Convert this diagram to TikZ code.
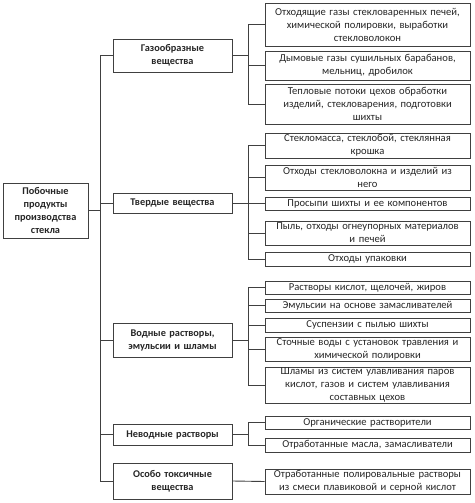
\documentclass[tikz,border=0pt]{standalone}
\usepackage{fontspec}
\setmainfont{Carlito}
\begin{document}
\begin{tikzpicture}[x=1pt,y=-1pt,
  box/.style={draw=black!75, line width=0.9pt, fill=white, inner sep=0pt, align=center,
    text=black!85, font=\fontsize{10.6}{13}\selectfont},
  rbox/.style={box, minimum width=205pt, text width=204pt},
  mbox/.style={box, minimum width=119pt, text width=116pt, font=\fontsize{10.3}{13}\selectfont\bfseries},
  conn/.style={draw=black!75, line width=0.9pt}]
\useasboundingbox (0,0) rectangle (474,503);
\coordinate (tx) at (100,0);
\coordinate (sx) at (248,0);
% main
\node[box, minimum width=85pt, minimum height=55pt, text width=84pt, font=\fontsize{10.3}{13}\selectfont\bfseries] (main) at (45.5,210.5) {Побочные\\продукты\\производства\\стекла};
% middle
\node[mbox, minimum height=33pt] (G) at (172.5,55.5) {Газообразные\\вещества};
\node[mbox, minimum height=20pt] (S) at (172.5,203) {Твердые вещества};
\node[mbox, minimum height=34pt] (W) at (172.5,340) {Водные растворы,\\эмульсии и шламы};
\node[mbox, minimum height=21pt] (N) at (172.5,434.5) {Неводные растворы};
\node[mbox, minimum height=36pt] (T) at (172.5,481) {Особо токсичные\\вещества};
% right
\node[rbox, minimum height=43pt] (R1) at (367.5,24.5) {Отходящие газы стекловаренных печей,\\химической полировки, выработки\\стекловолокон};
\node[rbox, minimum height=29pt] (R2) at (367.5,65.5) {Дымовые газы сушильных барабанов,\\мельниц, дробилок};
\node[rbox, minimum height=40pt] (R3) at (367.5,104) {Тепловые потоки цехов обработки\\изделий, стекловарения, подготовки\\шихты};
\node[rbox, minimum height=25pt] (R4) at (367.5,145.5) {Стекломасса, стеклобой, стеклянная\\крошка};
\node[rbox, minimum height=25pt] (R5) at (367.5,177.5) {Отходы стекловолокна и изделий из\\него};
\node[rbox, minimum height=13pt] (R6) at (367.5,203.5) {Просыпи шихты и ее компонентов};
\node[rbox, minimum height=24pt] (R7) at (367.5,233) {Пыль, отходы огнеупорных материалов\\и печей};
\node[rbox, minimum height=14pt] (R8) at (367.5,259) {Отходы упаковки};
\node[rbox, minimum height=13pt] (R9) at (367.5,287.5) {Растворы кислот, щелочей, жиров};
\node[rbox, minimum height=13pt] (R10) at (367.5,305.5) {Эмульсии на основе замасливателей};
\node[rbox, minimum height=14pt] (R11) at (367.5,325) {Суспензии с пылью шихты};
\node[rbox, minimum height=24pt] (R12) at (367.5,349) {Сточные воды с установок травления и\\химической полировки};
\node[rbox, minimum height=36pt] (R13) at (367.5,385) {Шламы из систем улавливания паров\\кислот, газов и систем улавливания\\составных цехов};
\node[rbox, minimum height=13pt] (R14) at (367.5,422.5) {Органические растворители};
\node[rbox, minimum height=14pt] (R15) at (367.5,445) {Отработанные масла, замасливатели};
\node[rbox, minimum height=25pt] (R16) at (367.5,481.5) {Отработанные полировальные растворы\\из смеси плавиковой и серной кислот};
% main trunk
\draw[conn] (main.east) -- (main.east -| tx);
\draw[conn] (G.west) -- (G.west -| tx) |- (T.west);
\draw[conn] (S.west) -- (S.west -| tx);
\draw[conn] (W.west) -- (W.west -| tx);
\draw[conn] (N.west) -- (N.west -| tx);
% gas
\draw[conn] (G.east) -- (G.east -| sx);
\draw[conn] (R1.west) -- (R1.west -| sx) |- (R3.west);
\draw[conn] (R2.west) -- (R2.west -| sx);
% solid
\draw[conn] (S.east) -- (S.east -| sx);
\draw[conn] (R4.west) -- (R4.west -| sx) |- (R8.west);
\draw[conn] (R5.west) -- (R5.west -| sx);
\draw[conn] (R6.west) -- (R6.west -| sx);
\draw[conn] (R7.west) -- (R7.west -| sx);
% water
\draw[conn] (W.east) -- (W.east -| sx);
\draw[conn] (R9.west) -- (R9.west -| sx) |- (R13.west);
\draw[conn] (R10.west) -- (R10.west -| sx);
\draw[conn] (R11.west) -- (R11.west -| sx);
\draw[conn] (R12.west) -- (R12.west -| sx);
% non-aqueous
\draw[conn] (N.east) -- (N.east -| sx);
\draw[conn] (R14.west) -- (R14.west -| sx) |- (R15.west);
% toxic
\draw[conn] (T.east) -- (R16.west);
\end{tikzpicture}
\end{document}
